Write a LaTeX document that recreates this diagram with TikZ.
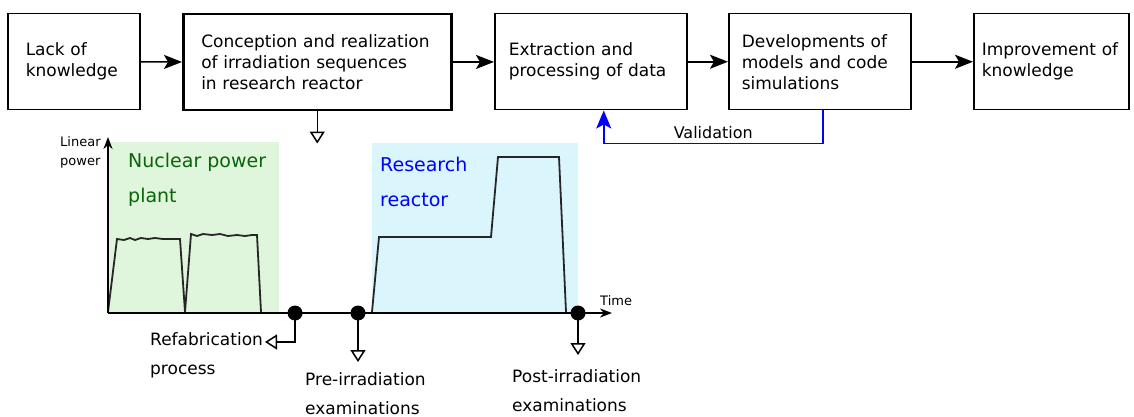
\documentclass[tikz,border=0pt]{standalone}
\usepackage{fontspec}
\setmainfont{DejaVu Sans}
\usetikzlibrary{arrows.meta,positioning}
\definecolor{npgreen}{RGB}{223,246,220}
\definecolor{nptext}{RGB}{10,100,10}
\definecolor{rrblue}{RGB}{219,245,252}
\tikzset{
  box/.style={draw, line width=1.5pt, anchor=north west, minimum height=96pt, align=left, font=\fontsize{17}{21}\selectfont},
  flow/.style={line width=1.6pt, -{Stealth[length=18pt,width=14pt,inset=4pt]}},
  outarr/.style={line width=1.5pt, -{Triangle[open,length=12pt,width=15pt]}},
  dot/.style={circle, fill, inner sep=0pt, minimum size=15pt},
  lbl/.style={font=\fontsize{17}{29}\selectfont, align=left, anchor=west, inner sep=0pt},
  small/.style={font=\fontsize{13}{19}\selectfont, align=left, anchor=west, inner sep=0pt},
  big/.style={font=\fontsize{19}{35}\selectfont, align=left, anchor=west, inner sep=0pt},
}

\begin{document}
\begin{tikzpicture}[x=1pt, y=-1pt]
			%%%%% START %%%%%
			\useasboundingbox (0,0) rectangle (1134,417);
			
			\node[box, inner xsep=18pt, text width=96pt] (lack) at (7,13) {Lack of\\knowledge\\[-8pt]};
			\node[box, line width=2.5pt, inner xsep=18pt, text width=232pt] (concept) at (182,13) {Conception and realization\\of irradiation sequences\\in research reactor};
			\node[box, inner xsep=14pt, text width=164pt] (extract) at (494,13) {Extraction and\\processing of data\\[-8pt]};
			\node[box, inner xsep=13pt, text width=156pt] (model) at (728,13) {Developments of\\models and code\\simulations};
			\node[box, inner xsep=8pt, text width=139pt] (improve) at (973,13) {Improvement of\\knowledge\\[-8pt]};
			
			\draw[flow] (lack) -- (concept);
			\draw[flow] (concept) -- (extract);
			\draw[flow] (extract) -- (model);
			\draw[flow] (model) -- (improve);
			
			\draw[outarr] (concept.south) -- ++(0,32);
			
			\draw[blue, line width=1.6pt, -{Stealth[length=18pt,width=15pt,inset=4pt]}] ([xshift=3pt]model.south) -- ++(0,33) -| ([xshift=13pt]extract.south)
				node[pos=0.25, above=1pt, text=black, font=\fontsize{16}{19}\selectfont] (valid) {Validation};
			
			% power history
			\fill[npgreen] (108,142) rectangle (279,312);
			\fill[rrblue] (372,143) rectangle (578,312);
			
			\node[big, text=nptext] (npp) at (128,180) {Nuclear power\\plant};
			\node[big, text=blue] (rr) at (380,182) {Research\\reactor};
			
			\draw[line width=1.8pt, color=black!85] (108,312) -- (117,239) -- (124,240) -- (130,238) -- (135,240) -- (141,238) -- (148,239) -- (155,238) -- (163,239) -- (171,239) -- (180,239) -- (185,312);
			\draw[line width=1.8pt, color=black!85] (185,312) -- (191,234) -- (197,236) -- (203,234) -- (212,235) -- (220,234) -- (228,236) -- (237,235) -- (245,236) -- (252,235) -- (257,235) -- (261,312);
			\draw[line width=1.8pt, color=black!85] (372,312) -- (379,237) -- (491,237) -- (498,157) -- (559,157) -- (566,312);
			
			\draw[line width=2pt, -{Stealth[length=12pt,width=9pt]}] (108,313) -- (108,137);
			\draw[line width=2pt, -{Stealth[length=12pt,width=9pt]}] (108,313) -- (612,313);
			\node[small] (ylab) at (60,152) {Linear\\power};
			\node[small] (xlab) at (600,301) {Time};
			
			\node[dot] (refab) at (295,313) {};
			\node[dot] (pre) at (358,313) {};
			\node[dot] (post) at (578,313) {};
			
			\draw[outarr] (refab.center) |- ++(-30,29);
			\draw[outarr] (pre.center) -- ++(0,49);
			\draw[outarr] (post.center) -- ++(0,42);
			
			\node[lbl] (refablbl) at (150,355) {Refabrication\\process};
			\node[lbl] (prelbl) at (305,394) {Pre-irradiation\\examinations};
			\node[lbl] (postlbl) at (512,391) {Post-irradiation\\examinations};
			%%%%% END %%%%%
\end{tikzpicture}
\end{document}
